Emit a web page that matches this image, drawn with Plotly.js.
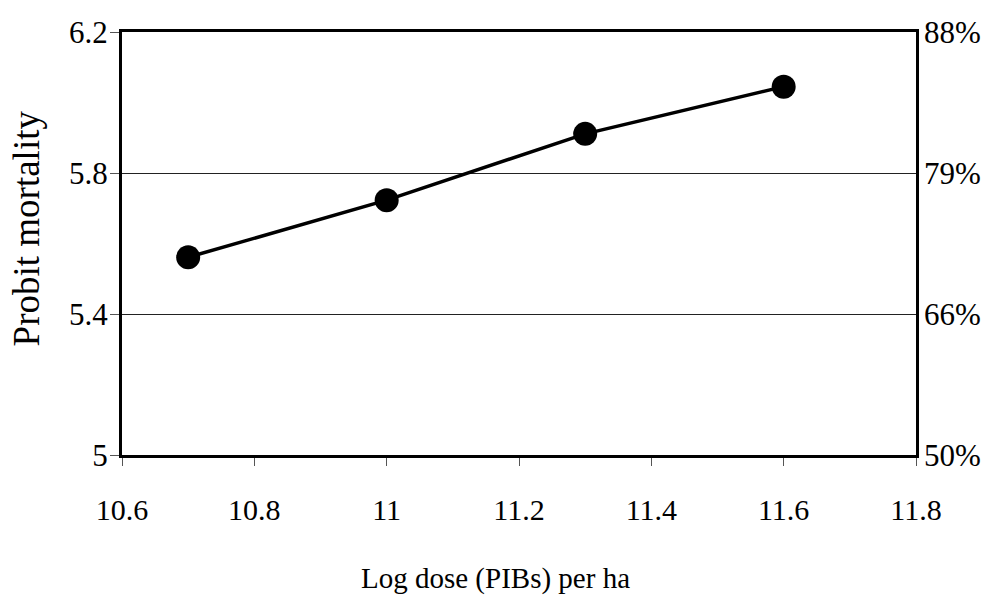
<!DOCTYPE html>
<html>
<head>
<meta charset="utf-8">
<script src="https://cdn.plot.ly/plotly-3.0.1.min.js"></script>
<style>
  html, body { margin: 0; padding: 0; background: #fff; }
  #chart { width: 992px; height: 595px; }
</style>
</head>
<body>
<div id="chart"></div>
<script>
// Log dose (PIBs per ha) against probit mortality
const logDose = [10.7, 11.0, 11.3, 11.6];
const probitMortality = [5.561, 5.723, 5.911, 6.045];

// Probit scale ticks and the matching percent mortality on the right
const probitTicks = [5, 5.4, 5.8, 6.2];
const probitTickText = ['5', '5.4', '5.8', '6.2'];
const percentTickText = ['50%', '66%', '79%', '88%'];
const doseTicks = [10.6, 10.8, 11.0, 11.2, 11.4, 11.6, 11.8];
const doseTickText = ['10.6', '10.8', '11', '11.2', '11.4', '11.6', '11.8'];

const xTitle = 'Log dose (PIBs) per ha';
const yTitle = 'Probit mortality';

const serif = 'Liberation Serif, Times New Roman, Times, serif';

const traces = [
  {
    x: logDose,
    y: probitMortality,
    type: 'scatter',
    mode: 'lines+markers',
    line: { color: '#000', width: 3.5 },
    marker: { color: '#000', size: 24 },
    hoverinfo: 'x+y',
    showlegend: false
  },
  {
    // carries the percent axis on the right
    x: logDose,
    y: probitMortality,
    yaxis: 'y2',
    type: 'scatter',
    mode: 'markers',
    marker: { opacity: 0 },
    hoverinfo: 'skip',
    showlegend: false
  }
];

const layout = {
  width: 992,
  height: 595,
  margin: { l: 122, r: 76, t: 32, b: 140 },
  paper_bgcolor: '#fff',
  plot_bgcolor: '#fff',
  font: { family: serif, size: 30, color: '#000' },
  showlegend: false,
  xaxis: {
    range: [10.6, 11.8],
    tickvals: doseTicks,
    ticktext: doseTickText,
    ticks: 'outside',
    ticklen: 8,
    tickwidth: 1,
    tickcolor: '#555',
    ticklabelstandoff: 18,
    showline: true,
    linecolor: '#000',
    linewidth: 3,
    mirror: true,
    showgrid: false,
    zeroline: false,
    tickfont: { family: serif, size: 30, color: '#000' }
  },
  yaxis: {
    range: [5, 6.2],
    tickvals: probitTicks,
    ticktext: probitTickText,
    ticks: 'outside',
    ticklen: 9,
    tickwidth: 1,
    tickcolor: '#555',
    ticklabelstandoff: -4,
    showline: true,
    linecolor: '#000',
    linewidth: 3,
    mirror: true,
    showgrid: true,
    gridcolor: '#222',
    gridwidth: 1,
    zeroline: false,
    tickfont: { family: serif, size: 31, color: '#000' }
  },
  yaxis2: {
    overlaying: 'y',
    side: 'right',
    range: [5, 6.2],
    tickvals: probitTicks,
    ticktext: percentTickText,
    ticks: '',
    ticklabelstandoff: 7,
    showline: false,
    showgrid: false,
    zeroline: false,
    tickfont: { family: serif, size: 31, color: '#000' }
  },
  annotations: [
    {
      // x-axis title, centred under the chart area
      text: xTitle,
      xref: 'paper', yref: 'paper',
      x: 0.471, y: -0.291,
      xanchor: 'center', yanchor: 'middle',
      showarrow: false,
      font: { family: serif, size: 29, color: '#000' }
    },
    {
      // y-axis title, rotated along the left edge
      text: yTitle,
      xref: 'paper', yref: 'paper',
      x: -0.12, y: 0.535,
      xanchor: 'center', yanchor: 'middle',
      textangle: -90,
      showarrow: false,
      font: { family: serif, size: 37, color: '#000' }
    }
  ]
};

Plotly.newPlot('chart', traces, layout, { displayModeBar: false, staticPlot: true });
</script>
</body>
</html>
